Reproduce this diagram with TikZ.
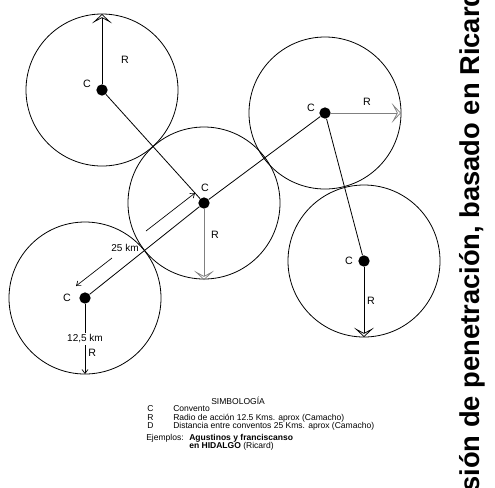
\documentclass[tikz,border=0pt]{standalone}
\usepackage{fontspec}
\setmainfont{Liberation Sans}
\usetikzlibrary{arrows.meta}
\begin{document}
\begin{tikzpicture}[x=0.75pt, y=-0.75pt,
        ring/.style={
            draw=black,
            line width=0.6pt},
        dot/.style={
            circle,
            fill=black,
            inner sep=0pt,
            minimum size=8.5pt},
        link/.style={
            line width=0.6pt},
        radio/.style={
            line width=0.6pt,
            -{Stealth[open, length=7pt, width=15pt, inset=4pt, line width=0.55pt]}},
        dim/.style={
            line width=0.5pt,
            -{Straight Barb[length=3pt, width=4.5pt]}},
        lbl/.style={
            inner sep=0pt,
            font=\fontsize{8}{9}\selectfont},
        km/.style={
            inner sep=0pt,
            font=\fontsize{7.5}{9}\selectfont},
        legend/.style={
            inner sep=0pt,
            anchor=west,
            font=\fontsize{6.4}{7.5}\selectfont}
        ]
    \useasboundingbox (0,0) rectangle (495,487);

        % conventos
        \node (c1) [dot] at (102,90) {};
        \node (c2) [dot] at (204,203) {};
        \node (c3) [dot] at (325,113) {};
        \node (c4) [dot] at (364,261) {};
        \node (c5) [dot] at (85,298) {};

        \draw [ring] (c1.center) circle (76);
        \draw [ring] (c2.center) circle (76);
        \draw [ring] (c3.center) circle (76);
        \draw [ring] (c4.center) circle (76);
        \draw [ring] (c5.center) circle (76);

        \node (lc1) [lbl] at (87,84) {C};
        \node (lc2) [lbl] at (205,188) {C};
        \node (lc3) [lbl] at (311,108) {C};
        \node (lc4) [lbl] at (349,261) {C};
        \node (lc5) [lbl] at (67,298) {C};

        % distancias entre conventos
        \draw [link] (c1) -- (c2);
        \draw [link] (c5) -- (c2);
        \draw [link] (c2) -- (c3);
        \draw [link] (c3) -- (c4);

        % radios de accion
        \coordinate (t1) at (102,14);
        \coordinate (t2) at (204,280);
        \coordinate (t3) at (401,113);
        \coordinate (t4) at (364,337);
        \coordinate (t5) at (85,374);

        \draw [radio] (c1) -- (t1);
        \draw [radio, draw=gray] (c2) -- (t2);
        \draw [radio, draw=gray] (c3) -- (t3);
        \draw [radio] (c4) -- (t4);
        \draw [dim] (c5) -- node [km, fill=white, inner sep=1.5pt] {12,5 km} (t5);

        \node (r1) [lbl] at (125,60) {R};
        \node (r2) [lbl] at (215,235) {R};
        \node (r3) [lbl] at (367,102) {R};
        \node (r4) [lbl] at (371,301) {R};
        \node (r5) [lbl, anchor=west] at (88,353) {R};

        % cota de 25 km
        \coordinate (d1) at (146,231);
        \coordinate (d2) at (195,193);
        \coordinate (d3) at (112,258);
        \coordinate (d4) at (76,286);
        \draw [dim] (d1) -- (d2);
        \draw [dim] (d3) -- (d4);
        \node (dist) [km] at (125,248) {25 km};

        % simbologia
        \node (simb) [legend] at (211,401) {SIMBOLOG\'IA};
        \node (kc) [legend] at (147,409) {C};
        \node (kr) [legend] at (147,418) {R};
        \node (kd) [legend] at (147,426) {D};
        \node (tc) [legend] at (173,409) {Convento};
        \node (tr) [legend] at (173,418) {Radio de acción 12.5 Kms. aprox (Camacho)};
        \node (td) [legend] at (173,426) {Distancia entre conventos 25 Kms. aprox (Camacho)};
        \node (ej) [legend] at (146,438) {Ejemplos:};
        \node (ej1) [legend] at (189,438) {\textbf{Agustinos y franciscanso}};
        \node (ej2) [legend] at (189,446) {\textbf{en HIDALGO} (Ricard)};

        % titulo vertical
        \node (titulo) [rotate=90, anchor=base west, inner sep=0pt,
            font=\fontsize{20.5}{21}\bfseries\selectfont] at (479,492)
            {sión de penetración, basado en Ricard};

        \end{tikzpicture}
\end{document}
